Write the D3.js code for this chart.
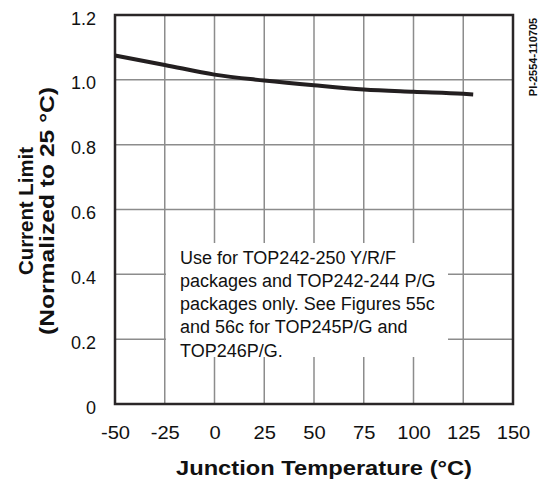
<!DOCTYPE html>
<html><head><meta charset="utf-8">
<script src="https://cdn.jsdelivr.net/npm/d3@7"></script>
<style>body{margin:0;background:#fff}svg{display:block}</style>
</head><body>
<script>
const temps = [-50, -25, 0, 25, 50, 75, 100, 125, 130];
const currentLimit = [1.075, 1.046, 1.016, 0.998, 0.983, 0.970, 0.963, 0.957, 0.955];
const xTicks = [-50, -25, 0, 25, 50, 75, 100, 125, 150];
const yTicks = [0, 0.2, 0.4, 0.6, 0.8, 1.0, 1.2];
const yTickLabels = ["0", "0.2", "0.4", "0.6", "0.8", "1.0", "1.2"];
const noteLines = ["Use for TOP242-250 Y/R/F", "packages and TOP242-244 P/G", "packages only. See Figures 55c", "and 56c for TOP245P/G and", "TOP246P/G."];

const W = 546, H = 487;
const m = {left:115, right:33, top:15, bottom:83};
const svg = d3.select("body").append("svg").attr("width", W).attr("height", H);
const font = "'Liberation Sans', Arial, Helvetica, sans-serif";
const x = d3.scaleLinear().domain([-50,150]).range([m.left, W-m.right]);
const y = d3.scaleLinear().domain([0,1.2]).range([H-m.bottom, m.top]);

// grid
const g = svg.append("g");
g.selectAll("line.v").data(xTicks.slice(1,-1)).join("line")
  .attr("x1", d=>x(d)).attr("x2", d=>x(d)).attr("y1", y(1.2)).attr("y2", y(0))
  .attr("stroke", "#8c8c8c").attr("stroke-width", 1.5);
g.selectAll("line.h").data(yTicks.slice(1,-1)).join("line")
  .attr("y1", d=>y(d)).attr("y2", d=>y(d)).attr("x1", x(-50)).attr("x2", x(150))
  .attr("stroke", "#8c8c8c").attr("stroke-width", 1.5);

// note box
svg.append("rect").attr("x", 166).attr("y", 243).attr("width", 282).attr("height", 114).attr("fill", "#fff");
svg.append("g").selectAll("text").data(noteLines).join("text")
  .attr("x", 180).attr("y", (d,i)=>263.5 + i*23.3)
  .attr("font-family", font).attr("font-size", 18).attr("fill", "#111").text(d=>d);

// frame
svg.append("rect").attr("x", x(-50)).attr("y", y(1.2)).attr("width", x(150)-x(-50)).attr("height", y(0)-y(1.2))
  .attr("fill", "none").attr("stroke", "#2a2627").attr("stroke-width", 2.5);

// curve
const line = d3.line().x((d,i)=>x(temps[i])).y(d=>y(d)).curve(d3.curveMonotoneX);
svg.append("path").datum(currentLimit).attr("d", line).attr("fill", "none")
  .attr("stroke", "#231f20").attr("stroke-width", 4);

// axes
const xa = svg.append("g").attr("transform", `translate(0,${y(0)})`)
  .call(d3.axisBottom(x).tickValues(xTicks).tickSize(0).tickPadding(22).tickFormat(d=>String(d)));
xa.select(".domain").remove();
xa.selectAll("text").attr("font-family", font).attr("font-size", 18).attr("fill", "#111")
  .attr("transform", "scale(1.12,1)");
const ya = svg.append("g").attr("transform", `translate(${x(-50)},0)`)
  .call(d3.axisLeft(y).tickValues(yTicks).tickSize(0).tickPadding(19).tickFormat((d,i)=>yTickLabels[i]));
ya.select(".domain").remove();
ya.selectAll("text").attr("font-family", font).attr("font-size", 18).attr("fill", "#111")
  .attr("dy", "0.5em");

// titles
svg.append("text").attr("x", 324).attr("y", 475).attr("text-anchor", "middle")
  .attr("font-family", font).attr("font-size", 21).attr("font-weight", "bold").attr("fill", "#111")
  .attr("textLength", 296).attr("lengthAdjust", "spacingAndGlyphs")
  .text("Junction Temperature (°C)");
const cy = 211;
svg.append("text").attr("transform", `translate(33,${cy}) rotate(-90)`).attr("text-anchor", "middle")
  .attr("font-family", font).attr("font-size", 20).attr("font-weight", "bold").attr("fill", "#111")
  .attr("textLength", 128).attr("lengthAdjust", "spacingAndGlyphs")
  .attr("x", 0).attr("y", 0).text("Current Limit");
svg.append("text").attr("transform", `translate(54,${cy}) rotate(-90)`).attr("text-anchor", "middle")
  .attr("font-family", font).attr("font-size", 20).attr("font-weight", "bold").attr("fill", "#111")
  .attr("textLength", 248).attr("lengthAdjust", "spacingAndGlyphs")
  .attr("x", 0).attr("y", 0).text("(Normalized to 25 °C)");

svg.append("text").attr("transform", `translate(537,57) rotate(-90)`).attr("text-anchor", "middle")
  .attr("font-family", font).attr("font-size", 11).attr("font-weight", "bold").attr("fill", "#111")
  .text("PI-2554-110705");
</script>
</body></html>
